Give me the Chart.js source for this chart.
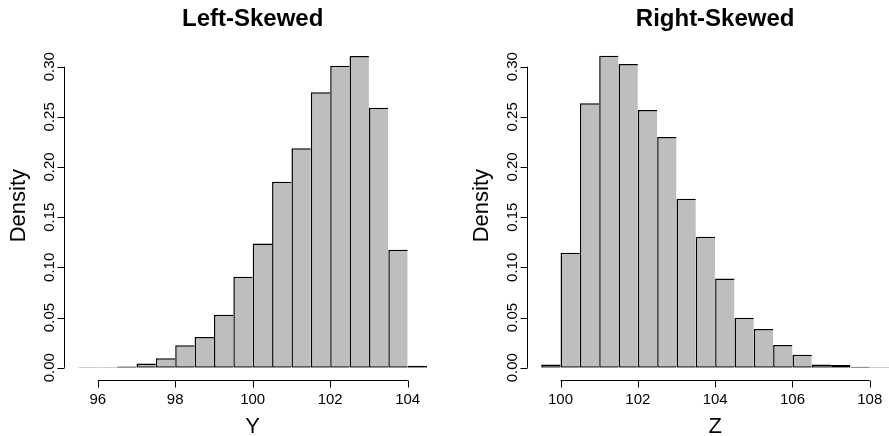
<!DOCTYPE html>
<html>
<head>
<meta charset="utf-8">
<script src="https://cdn.jsdelivr.net/npm/chart.js@4/dist/chart.umd.min.js"></script>
<style>
html, body { margin: 0; padding: 0; overflow: hidden; background: #fff; }
#leftBox { position: absolute; left: 0; top: 0; width: 445px; height: 436px; }
#rightBox { position: absolute; left: 445px; top: 0; width: 460px; height: 436px; }
</style>
</head>
<body>
<div id="leftBox"><canvas id="leftChart"></canvas></div>
<div id="rightBox"><canvas id="rightChart"></canvas></div>
<script>
// bin centres (bin width 0.5) and densities
const leftBins = [95.75, 96.25, 96.75, 97.25, 97.75, 98.25, 98.75, 99.25, 99.75,
  100.25, 100.75, 101.25, 101.75, 102.25, 102.75, 103.25, 103.75, 104.25];
const leftDensity = [0.0005, 0.0005, 0.0013, 0.0043, 0.0093, 0.0223, 0.0306, 0.0528, 0.0907,
  0.1239, 0.1854, 0.2186, 0.2744, 0.3010, 0.3106, 0.2591, 0.1176, 0.0020];

const rightBins = [99.75, 100.25, 100.75, 101.25, 101.75, 102.25, 102.75, 103.25, 103.75,
  104.25, 104.75, 105.25, 105.75, 106.25, 106.75, 107.25, 107.75, 108.25];
const rightDensity = [0.0033, 0.1146, 0.2635, 0.3110, 0.3027, 0.2568, 0.2299, 0.1684, 0.1306,
  0.0890, 0.0498, 0.0385, 0.0226, 0.0130, 0.0033, 0.0028, 0.0010, 0.0005];

const leftTicks = [96, 98, 100, 102, 104];
const rightTicks = [100, 102, 104, 106, 108];
const yTicks = [0, 0.05, 0.10, 0.15, 0.20, 0.25, 0.30];

const FONT = '"Liberation Sans", Arial, Helvetica, sans-serif';

// R style axes, titles and labels drawn with the chart's own scales
const rAxes = {
  id: 'rAxes',
  afterDraw(chart, args, opts) {
    const ctx = chart.ctx;
    const area = chart.chartArea;
    const xs = chart.scales.x;
    const ys = chart.scales.y;
    ctx.save();
    ctx.strokeStyle = '#000';
    ctx.fillStyle = '#000';
    ctx.lineWidth = 1;

    // y axis
    const yx = Math.round(area.left) + 0.5;
    const y0 = ys.getPixelForValue(yTicks[0]);
    const y1 = ys.getPixelForValue(yTicks[yTicks.length - 1]);
    ctx.beginPath();
    ctx.moveTo(yx, y0);
    ctx.lineTo(yx, y1);
    for (const t of yTicks) {
      const p = Math.round(ys.getPixelForValue(t)) + 0.5;
      ctx.moveTo(yx, p);
      ctx.lineTo(yx - 7, p);
    }
    ctx.stroke();
    ctx.font = '15px ' + FONT;
    ctx.textAlign = 'center';
    ctx.textBaseline = 'alphabetic';
    for (const t of yTicks) {
      const p = ys.getPixelForValue(t);
      ctx.save();
      ctx.translate(area.left - 10, p);
      ctx.rotate(-Math.PI / 2);
      ctx.fillText(t.toFixed(2), 0, 0);
      ctx.restore();
    }

    // x axis
    const xy = Math.round(area.bottom + 12) + 0.5;
    const ticks = opts.ticks;
    ctx.beginPath();
    ctx.moveTo(xs.getPixelForValue(ticks[0]), xy);
    ctx.lineTo(xs.getPixelForValue(ticks[ticks.length - 1]), xy);
    for (const t of ticks) {
      const p = Math.round(xs.getPixelForValue(t)) + 0.5;
      ctx.moveTo(p, xy);
      ctx.lineTo(p, xy + 7);
    }
    ctx.stroke();
    for (const t of ticks) {
      ctx.fillText(String(t), xs.getPixelForValue(t), xy + 23);
    }

    const cx = (area.left + area.right) / 2;
    const cy = (area.top + area.bottom) / 2;

    // title
    ctx.font = 'bold 24px ' + FONT;
    ctx.fillText(opts.title, cx, 26);

    // axis labels
    ctx.font = '22px ' + FONT;
    ctx.fillText(opts.xLabel, cx, 433);
    ctx.save();
    ctx.translate(area.left - 39, cy);
    ctx.rotate(-Math.PI / 2);
    ctx.fillText('Density', 0, 0);
    ctx.restore();

    ctx.restore();
  }
};

function makeHist(id, bins, dens, xmin, xmax, ticks, title, xLabel, pad) {
  const last = bins.length - 1;
  return new Chart(id, {
    type: 'bar',
    data: {
      datasets: [{
        data: bins.map((b, i) => ({ x: b, y: dens[i] })),
        backgroundColor: '#bebebe',
        borderColor: '#000',
        borderWidth: (c) => ({ top: 1.5, left: 1.5, bottom: 1.5, right: c.dataIndex === last ? 1.5 : 0 }),
        borderSkipped: false,
        barPercentage: 1,
        categoryPercentage: 1,
        inflateAmount: 0
      }]
    },
    options: {
      responsive: true,
      maintainAspectRatio: false,
      animation: false,
      layout: { padding: pad },
      plugins: {
        legend: { display: false },
        tooltip: { enabled: false },
        rAxes: { ticks: ticks, title: title, xLabel: xLabel }
      },
      scales: {
        x: { type: 'linear', offset: false, min: xmin, max: xmax, display: false },
        y: { min: 0, max: 0.323, display: false }
      }
    },
    plugins: [rAxes]
  });
}

makeHist('leftChart', leftBins, leftDensity, 95.14, 104.86, leftTicks,
  'Left-Skewed', 'Y', { left: 64.4, right: 4, top: 43.6, bottom: 68.3 });
makeHist('rightChart', rightBins, rightDensity, 99.14, 108.86, rightTicks,
  'Right-Skewed', 'Z', { left: 82.3, right: 2, top: 43.6, bottom: 68.3 });
</script>
</body>
</html>
